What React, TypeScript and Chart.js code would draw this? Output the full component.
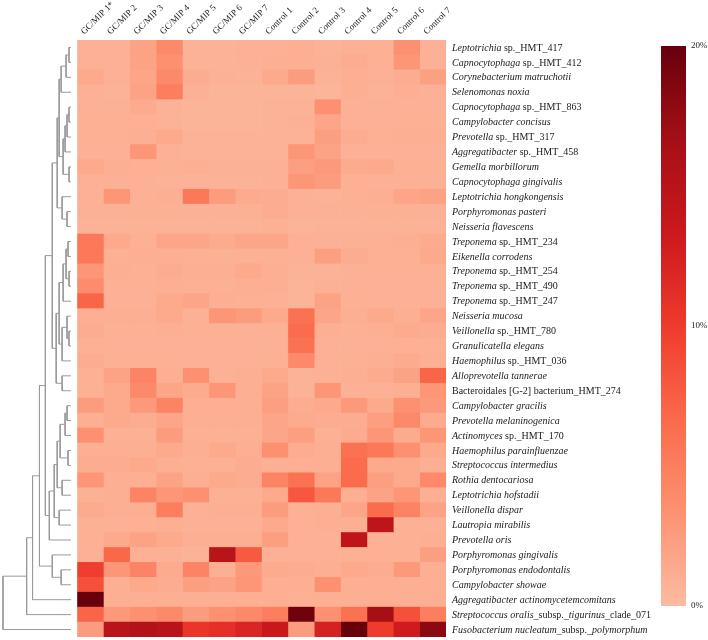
import React, { useEffect, useRef } from "react";
import { Chart, registerables } from "chart.js";
Chart.register(...registerables);

const columnLabels = [
  "GC/MIP 1*", "GC/MIP 2", "GC/MIP 3", "GC/MIP 4", "GC/MIP 5", "GC/MIP 6", "GC/MIP 7",
  "Control 1", "Control 2", "Control 3", "Control 4", "Control 5", "Control 6", "Control 7",
];

// *...* marks italic parts
const rowLabels = [
  "*Leptotrichia* sp._HMT_417",
  "*Capnocytophaga* sp._HMT_412",
  "*Corynebacterium matruchotii*",
  "*Selenomonas noxia*",
  "*Capnocytophaga* sp._HMT_863",
  "*Campylobacter concisus*",
  "*Prevotella* sp._HMT_317",
  "*Aggregatibacter* sp._HMT_458",
  "*Gemella morbillorum*",
  "*Capnocytophaga gingivalis*",
  "*Leptotrichia hongkongensis*",
  "*Porphyromonas pasteri*",
  "*Neisseria flavescens*",
  "*Treponema* sp._HMT_234",
  "*Eikenella corrodens*",
  "*Treponema* sp._HMT_254",
  "*Treponema* sp._HMT_490",
  "*Treponema* sp._HMT_247",
  "*Neisseria mucosa*",
  "*Veillonella* sp._HMT_780",
  "*Granulicatella elegans*",
  "*Haemophilus* sp._HMT_036",
  "*Alloprevotella tannerae*",
  "Bacteroidales [G-2] bacterium_HMT_274",
  "*Campylobacter gracilis*",
  "*Prevotella melaninogenica*",
  "*Actinomyces* sp._HMT_170",
  "*Haemophilus parainfluenzae*",
  "*Streptococcus intermedius*",
  "*Rothia dentocariosa*",
  "*Leptotrichia hofstadii*",
  "*Veillonella dispar*",
  "*Lautropia mirabilis*",
  "*Prevotella oris*",
  "*Porphyromonas gingivalis*",
  "*Porphyromonas endodontalis*",
  "*Campylobacter showae*",
  "*Aggregatibacter actinomycetemcomitans*",
  "*Streptococcus oralis*_subsp._*tigurinus*_clade_071",
  "*Fusobacterium nucleatum*_subsp._*polymorphum*",
];

// relative abundance (%) per row, columns in the order of columnLabels
const values: number[][] = [
  [0.8, 0.8, 2.0, 4.0, 0.7, 0.7, 0.8, 0.8, 1.0, 0.7, 0.8, 0.9, 3.5, 0.8],
  [0.8, 0.8, 2.0, 3.5, 0.7, 0.7, 0.8, 1.0, 1.0, 0.8, 1.2, 0.9, 3.0, 0.8],
  [1.5, 0.8, 1.8, 4.0, 1.2, 0.8, 0.7, 1.5, 2.5, 0.7, 1.0, 0.8, 1.2, 2.2],
  [0.8, 0.7, 2.0, 5.0, 0.8, 0.6, 0.6, 0.6, 0.6, 0.5, 1.0, 0.7, 1.0, 0.8],
  [0.8, 0.8, 1.3, 0.7, 0.6, 0.6, 0.6, 0.7, 0.7, 3.5, 0.8, 0.8, 0.8, 0.8],
  [0.9, 0.9, 0.9, 0.7, 0.6, 0.6, 0.6, 0.7, 0.8, 1.8, 0.8, 0.8, 0.9, 0.9],
  [0.9, 0.9, 1.0, 1.5, 0.7, 0.7, 0.7, 0.7, 0.7, 2.3, 1.2, 0.9, 1.0, 1.0],
  [0.8, 0.8, 3.0, 0.8, 0.7, 0.7, 0.7, 0.7, 3.0, 2.0, 0.8, 0.8, 0.8, 0.8],
  [1.5, 1.0, 0.9, 0.9, 1.0, 0.8, 0.8, 0.8, 2.3, 2.8, 1.3, 1.5, 0.9, 0.9],
  [0.8, 0.8, 0.8, 0.7, 0.7, 0.7, 0.7, 0.8, 3.0, 2.5, 0.9, 0.8, 0.8, 0.9],
  [0.8, 3.0, 0.8, 1.0, 5.5, 2.5, 1.3, 1.2, 0.8, 0.7, 0.9, 1.0, 1.8, 2.0],
  [0.8, 0.8, 0.9, 0.9, 0.8, 0.8, 0.9, 1.2, 0.8, 0.8, 0.8, 0.9, 0.9, 0.8],
  [0.7, 0.7, 0.7, 0.7, 0.7, 0.7, 0.7, 0.9, 0.6, 0.7, 0.7, 0.7, 0.7, 0.7],
  [5.5, 1.5, 0.9, 1.8, 1.8, 1.3, 1.8, 1.8, 0.8, 0.8, 0.9, 0.9, 1.0, 1.3],
  [5.5, 0.9, 1.0, 1.0, 0.9, 0.9, 0.9, 0.9, 0.8, 2.3, 1.2, 0.9, 0.9, 1.5],
  [3.0, 1.0, 0.9, 1.2, 1.0, 1.0, 1.5, 1.0, 0.7, 0.7, 0.8, 0.8, 0.8, 0.9],
  [3.8, 0.8, 0.8, 1.0, 0.8, 0.9, 1.0, 1.0, 0.6, 0.8, 0.8, 0.8, 0.8, 0.8],
  [7.0, 0.8, 0.8, 1.5, 1.8, 1.0, 0.9, 0.8, 0.6, 2.0, 0.9, 0.8, 0.8, 0.8],
  [1.0, 1.0, 1.0, 1.5, 0.8, 3.0, 2.5, 1.5, 6.0, 1.8, 1.0, 1.5, 1.0, 1.8],
  [1.2, 0.9, 0.9, 1.0, 0.9, 0.9, 0.8, 0.9, 6.5, 1.0, 0.9, 1.0, 1.3, 1.2],
  [0.9, 0.8, 0.8, 0.8, 0.8, 0.8, 0.8, 0.8, 6.0, 0.8, 0.8, 0.8, 0.9, 0.9],
  [1.2, 0.9, 0.9, 0.9, 0.8, 0.8, 0.8, 0.9, 4.0, 0.8, 0.9, 1.0, 1.3, 1.0],
  [0.9, 2.0, 4.5, 1.0, 3.5, 0.8, 1.0, 1.5, 0.7, 0.8, 1.0, 1.3, 2.0, 7.0],
  [0.9, 1.5, 4.0, 1.8, 1.3, 3.0, 1.0, 2.0, 0.7, 3.0, 0.8, 0.8, 1.0, 3.0],
  [2.5, 1.5, 2.8, 4.5, 1.0, 1.0, 1.0, 2.3, 1.2, 1.5, 2.8, 1.5, 3.5, 2.8],
  [1.0, 1.5, 1.2, 1.8, 1.0, 1.0, 1.0, 1.8, 1.3, 1.2, 1.2, 2.3, 4.0, 1.3],
  [3.5, 0.9, 0.9, 2.5, 0.9, 0.9, 0.9, 1.8, 2.3, 0.9, 1.3, 3.0, 1.3, 3.0],
  [1.0, 1.0, 1.0, 1.5, 1.0, 1.5, 1.0, 3.5, 1.2, 1.0, 6.0, 5.5, 3.5, 1.5],
  [1.2, 1.2, 1.5, 1.0, 0.9, 0.9, 1.2, 1.0, 1.0, 1.0, 6.5, 1.5, 1.5, 1.0],
  [3.0, 1.0, 1.0, 2.0, 1.0, 1.5, 1.2, 4.5, 6.0, 2.0, 6.5, 2.3, 1.5, 4.0],
  [0.9, 1.0, 4.5, 3.0, 3.5, 0.9, 0.9, 1.5, 8.0, 5.5, 1.0, 2.0, 3.0, 1.0],
  [1.3, 1.0, 1.0, 5.0, 0.8, 1.0, 1.0, 2.5, 0.9, 1.0, 1.8, 6.5, 4.5, 2.0],
  [0.9, 0.8, 0.9, 1.0, 0.8, 0.8, 0.8, 1.5, 0.8, 1.0, 1.0, 14.5, 0.8, 0.8],
  [0.9, 1.5, 2.0, 1.5, 1.0, 1.0, 1.0, 2.3, 0.8, 0.8, 14.5, 0.8, 0.9, 1.0],
  [0.8, 6.8, 0.8, 0.8, 0.7, 15.0, 7.8, 0.8, 0.8, 0.8, 0.9, 0.9, 0.9, 2.3],
  [9.8, 3.0, 4.5, 1.3, 4.5, 1.0, 2.8, 1.3, 1.2, 1.0, 1.5, 1.2, 2.8, 1.0],
  [8.5, 1.0, 1.5, 1.2, 2.3, 2.0, 3.0, 1.0, 1.0, 3.5, 1.0, 1.0, 1.0, 1.0],
  [20.0, 1.0, 1.0, 1.0, 1.0, 1.0, 1.0, 1.0, 0.9, 1.0, 1.0, 1.0, 1.0, 1.0],
  [7.0, 2.8, 3.5, 4.0, 2.5, 3.5, 4.0, 5.0, 19.5, 3.5, 6.0, 16.5, 8.5, 5.0],
  [2.5, 15.0, 15.5, 15.0, 10.5, 11.0, 12.0, 13.5, 2.5, 12.5, 20.0, 10.0, 13.0, 18.0],
];

const colorbarTicks = [0, 10, 20];

// hierarchical clustering of rows: [left, right, mergeHeight]; numbers are row indices
const dendrogramTree: any = [
  [
    [
      [
        [
          [[[[0, 1, 2], 2, 5], 3, 10], [[[[4, 5, 2], 6, 4], 7, 6], [8, 9, 2], 8], 12],
          [10, [11, 12, 4], 9],
          14,
        ],
        [
          [[[[13, 14, 3], [15, 16, 2], 5], 17, 8], [[18, [19, 20, 2], 4], 21, 9], 12],
          [22, 23, 9],
          15,
        ],
        19,
      ],
      [[[[[[24, 25, 4], 26, 6], [27, 28, 3], 11], [29, 30, 9], 14], [31, 32, 12], 17], 33, 22],
      26,
    ],
    [34, [35, 36, 10], 19],
    32,
  ],
  37,
  39,
];
const dendrogramRoot: any = [[dendrogramTree, 38, 45], 39, 69];

const REDS = [
  [252, 187, 161], [252, 146, 114], [251, 106, 74], [239, 59, 44],
  [203, 24, 29], [165, 15, 21], [103, 0, 13],
];
function colorFor(v: number): string {
  const t = Math.max(0, Math.min(1, v / 20)) * (REDS.length - 1);
  const i = Math.min(REDS.length - 2, Math.floor(t));
  const f = t - i;
  const a = REDS[i], b = REDS[i + 1];
  const c = a.map((x, k) => Math.round(x + (b[k] - x) * f));
  return `rgb(${c[0]},${c[1]},${c[2]})`;
}

const serif = "'Liberation Serif', 'Times New Roman', serif";
const plain = (s: string) => s.replace(/\*/g, "");

const rowLabelPlugin = {
  id: "rowLabels",
  afterDraw(chart: any) {
    const ys = chart.scales.y;
    const { ctx, chartArea } = chart;
    ctx.save();
    ctx.textBaseline = "middle";
    ctx.fillStyle = "#1a1a1a";
    rowLabels.forEach((lab, i) => {
      let x = chartArea.right + 6;
      const y = ys.getPixelForValue(i) + 0.5;
      lab.split("*").forEach((seg, k) => {
        if (!seg) return;
        ctx.font = `${k % 2 ? "italic " : ""}10px ${serif}`;
        ctx.fillText(seg, x, y);
        x += ctx.measureText(seg).width;
      });
    });
    ctx.restore();
  },
};

function buildLinks(node: any, out: any[]): { y: number; h: number } {
  if (typeof node === "number") return { y: node, h: 0 };
  const l = buildLinks(node[0], out);
  const r = buildLinks(node[1], out);
  const h = node[2];
  out.push([
    { x: l.h, y: l.y },
    { x: h, y: l.y },
    { x: h, y: r.y },
    { x: r.h, y: r.y },
  ]);
  return { y: (l.y + r.y) / 2, h };
}

export default function App() {
  const mainRef = useRef<HTMLCanvasElement>(null);
  const dendRef = useRef<HTMLCanvasElement>(null);
  const barRef = useRef<HTMLCanvasElement>(null);

  useEffect(() => {
    const common = {
      animation: false as const,
      responsive: false,
      plugins: { legend: { display: false }, tooltip: { enabled: false } },
    };

    const main = new Chart(mainRef.current!, {
      type: "bar",
      data: {
        labels: rowLabels.map(plain),
        datasets: columnLabels.map((col, j) => ({
          label: col,
          data: values.map(() => [j, j + 1]),
          backgroundColor: values.map((r) => colorFor(r[j])),
          borderWidth: 0,
          barPercentage: 1,
          categoryPercentage: 1,
          grouped: false,
        })),
      } as any,
      options: {
        ...common,
        indexAxis: "y",
        layout: { padding: { left: 77, right: 262, top: 0, bottom: 3 } },
        scales: {
          x: {
            type: "linear", min: 0, max: columnLabels.length, position: "bottom",
            ticks: { display: false, stepSize: 1 },
            grid: { color: "rgba(255,255,255,0.7)", drawTicks: false },
            border: { display: false }, z: 1,
            afterFit: (s: any) => { s.height = 0; },
          },
          xc: {
            type: "category", labels: columnLabels, position: "top", offset: true,
            grid: { display: false, drawTicks: false }, border: { display: false },
            ticks: {
              autoSkip: false, minRotation: 45, maxRotation: 45, padding: 3,
              color: "#1a1a1a", font: { family: serif, size: 9 },
            },
            afterFit: (s: any) => { s.height = 40; },
          },
          y: {
            type: "category", position: "right", offset: true,
            grid: { offset: true, color: "rgba(255,255,255,0.7)", drawTicks: false },
            border: { display: false }, ticks: { display: false }, z: 1,
            afterFit: (s: any) => { s.width = 0; },
          },
        },
      } as any,
      plugins: [rowLabelPlugin],
    });

    const links: any[] = [];
    buildLinks(dendrogramRoot, links);
    const dend = new Chart(dendRef.current!, {
      type: "scatter",
      data: {
        datasets: links.map((pts) => ({
          data: pts, showLine: true, pointRadius: 0, borderColor: "#9a9a9a", borderWidth: 1,
        })),
      },
      options: {
        ...common,
        layout: { padding: { left: 2, right: 637, top: 40, bottom: 3 } },
        scales: {
          x: { type: "linear", min: 0, max: 70, reverse: true, display: false },
          y: { type: "linear", min: -0.5, max: rowLabels.length - 0.5, reverse: true, display: false },
        },
      } as any,
    });

    const cmin = colorbarTicks[0], cmax = colorbarTicks[colorbarTicks.length - 1];
    const bar = new Chart(barRef.current!, {
      type: "bar",
      data: {
        labels: [""],
        datasets: [{
          data: [[cmin, cmax]],
          barPercentage: 1, categoryPercentage: 1, borderWidth: 0,
          backgroundColor: (ctx: any) => {
            const chart = ctx.chart;
            if (!chart.chartArea) return colorFor(10);
            const ys = chart.scales.y;
            const g = chart.ctx.createLinearGradient(0, ys.getPixelForValue(cmin), 0, ys.getPixelForValue(cmax));
            for (let k = 0; k <= 20; k++) g.addColorStop(k / 20, colorFor(cmin + (cmax - cmin) * k / 20));
            return g;
          },
        }],
      } as any,
      options: {
        ...common,
        layout: { padding: { left: 661, right: 0, top: 46, bottom: 34 } },
        scales: {
          x: { display: false },
          y: {
            min: cmin, max: cmax, position: "right",
            grid: { display: false, drawTicks: false }, border: { display: false },
            afterBuildTicks: (s: any) => { s.ticks = colorbarTicks.map((v) => ({ value: v })); },
            ticks: {
              padding: 5, color: "#1a1a1a", font: { family: serif, size: 9 },
              callback: (v: any) => `${v}%`,
            },
            afterFit: (s: any) => { s.width = 22; },
          },
        },
      } as any,
    });

    return () => { main.destroy(); dend.destroy(); bar.destroy(); };
  }, []);

  const cs: React.CSSProperties = { position: "absolute", left: 0, top: 0 };
  return (
    <div style={{ position: "fixed", left: 0, top: 0, width: 708, height: 640, background: "#fff" }}>
      <canvas ref={dendRef} width={708} height={640} style={cs} />
      <canvas ref={mainRef} width={708} height={640} style={cs} />
      <canvas ref={barRef} width={708} height={640} style={cs} />
    </div>
  );
}
